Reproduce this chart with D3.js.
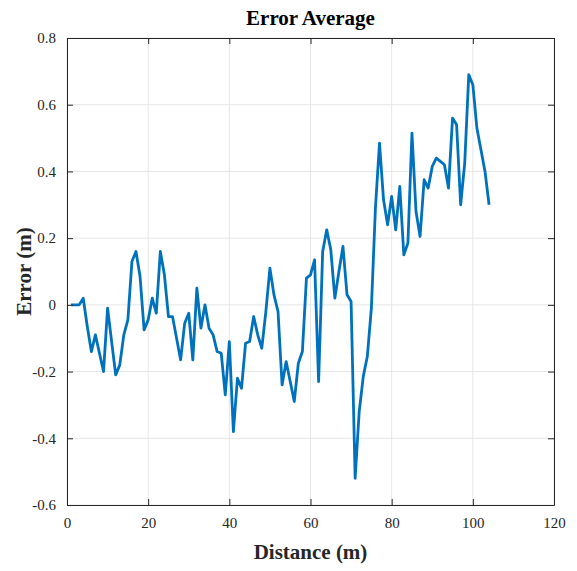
<!DOCTYPE html>
<html>
<head>
<meta charset="utf-8">
<script src="https://cdn.jsdelivr.net/npm/d3@7"></script>
<style>
  html, body { margin: 0; padding: 0; background: #fff; }
  svg { display: block; }
  text { font-family: "Liberation Serif", "Times New Roman", serif; }
</style>
</head>
<body>
<div id="chart"></div>
<script>
// Distance along the route (m)
const distance = [
  1, 2, 3, 4, 5, 6, 7, 8, 9, 10,
  11, 12, 13, 14, 15, 16, 17, 18, 19, 20,
  21, 22, 23, 24, 25, 26, 27, 28, 29, 30,
  31, 32, 33, 34, 35, 36, 37, 38, 39, 40,
  41, 42, 43, 44, 45, 46, 47, 48, 49, 50,
  51, 52, 53, 54, 55, 56, 57, 58, 59, 60,
  61, 62, 63, 64, 65, 66, 67, 68, 69, 70,
  71, 72, 73, 74, 75, 76, 77, 78, 79, 80,
  81, 82, 83, 84, 85, 86, 87, 88, 89, 90,
  91, 92, 93, 94, 95, 96, 97, 98, 99, 100,
  101, 102, 103, 104
];

// Average error at each distance (m)
const errorAvg = [
  0, 0, 0, 0.02, -0.065, -0.14, -0.09, -0.145, -0.2, -0.01,
  -0.11, -0.21, -0.18, -0.09, -0.045, 0.13, 0.16, 0.085, -0.075, -0.045,
  0.02, -0.025, 0.16, 0.09, -0.035, -0.035, -0.1, -0.165, -0.055, -0.025,
  -0.165, 0.05, -0.07, 0, -0.07, -0.09, -0.14, -0.145, -0.27, -0.11,
  -0.38, -0.22, -0.25, -0.115, -0.11, -0.035, -0.09, -0.13, -0.02, 0.11,
  0.03, -0.02, -0.24, -0.17, -0.23, -0.29, -0.175, -0.14, 0.08, 0.09,
  0.135, -0.23, 0.16, 0.225, 0.165, 0.02, 0.1, 0.175, 0.03, 0.01,
  -0.52, -0.32, -0.215, -0.155, -0.01, 0.29, 0.485, 0.315, 0.24, 0.325,
  0.225, 0.355, 0.15, 0.185, 0.515, 0.28, 0.205, 0.375, 0.35, 0.415,
  0.44, 0.43, 0.42, 0.35, 0.56, 0.54, 0.3, 0.425, 0.69, 0.66,
  0.53, 0.465, 0.4, 0.3
];

const xTicks = [0, 20, 40, 60, 80, 100, 120];
const yTicks = [-0.6, -0.4, -0.2, 0, 0.2, 0.4, 0.6, 0.8];
const yTickLabels = ["-0.6", "-0.4", "-0.2", "0", "0.2", "0.4", "0.6", "0.8"];

const titleText = "Error Average";
const xLabelText = "Distance (m)";
const yLabelText = "Error (m)";

const W = 577, H = 571;
const margin = { top: 38, right: 23, bottom: 66, left: 67 };
const iw = W - margin.left - margin.right;
const ih = H - margin.top - margin.bottom;

const axisColor = "#262626";
const gridColor = "#e6e6e6";
const lineColor = "#0072BD";

const svg = d3.select("#chart").append("svg")
  .attr("width", W).attr("height", H);

const g = svg.append("g").attr("transform", `translate(${margin.left},${margin.top})`);

const x = d3.scaleLinear().domain([0, 120]).range([0, iw]);
const y = d3.scaleLinear().domain([-0.6, 0.8]).range([ih, 0]);

// grid
g.append("g").selectAll("line.vg").data(xTicks).join("line")
  .attr("x1", d => x(d)).attr("x2", d => x(d))
  .attr("y1", 0).attr("y2", ih)
  .attr("stroke", gridColor).attr("stroke-width", 1);
g.append("g").selectAll("line.hg").data(yTicks).join("line")
  .attr("x1", 0).attr("x2", iw)
  .attr("y1", d => y(d)).attr("y2", d => y(d))
  .attr("stroke", gridColor).attr("stroke-width", 1);

// data line
const pts = distance.map((d, i) => [d, errorAvg[i]]);
g.append("path")
  .datum(pts)
  .attr("fill", "none")
  .attr("stroke", lineColor)
  .attr("stroke-width", 2.8)
  .attr("stroke-linejoin", "round")
  .attr("d", d3.line().x(d => x(d[0])).y(d => y(d[1])));

// axes with inward ticks on all four sides
const tickLen = 6;
const fmtY = d => yTickLabels[yTicks.indexOf(d)];

const styleAxis = sel => {
  sel.select(".domain").attr("stroke", axisColor).attr("stroke-width", 1);
  sel.selectAll(".tick line").attr("stroke", axisColor);
  sel.selectAll(".tick text").attr("fill", axisColor)
    .style("font-size", "15px").style("font-family", "'Liberation Serif', serif");
};

g.append("g").attr("transform", `translate(0,${ih})`)
  .call(d3.axisBottom(x).tickValues(xTicks).tickSizeInner(-tickLen).tickSizeOuter(0).tickPadding(12))
  .call(styleAxis);
g.append("g")
  .call(d3.axisTop(x).tickValues(xTicks).tickSizeInner(-tickLen).tickSizeOuter(0).tickFormat(""))
  .call(styleAxis);
g.append("g")
  .call(d3.axisLeft(y).tickValues(yTicks).tickFormat(fmtY).tickSizeInner(-tickLen).tickSizeOuter(0).tickPadding(11))
  .call(styleAxis);
g.append("g").attr("transform", `translate(${iw},0)`)
  .call(d3.axisRight(y).tickValues(yTicks).tickSizeInner(-tickLen).tickSizeOuter(0).tickFormat(""))
  .call(styleAxis);

// titles
svg.append("text")
  .attr("x", margin.left + iw / 2).attr("y", 25)
  .attr("text-anchor", "middle")
  .attr("fill", "#000")
  .style("font-size", "21px").style("font-weight", "bold")
  .text(titleText);

svg.append("text")
  .attr("x", margin.left + iw / 2).attr("y", 559)
  .attr("text-anchor", "middle")
  .attr("fill", axisColor)
  .style("font-size", "21px").style("font-weight", "bold")
  .text(xLabelText);

svg.append("text")
  .attr("transform", `translate(31,${margin.top + ih / 2}) rotate(-90)`)
  .attr("text-anchor", "middle")
  .attr("fill", axisColor)
  .style("font-size", "21px").style("font-weight", "bold")
  .text(yLabelText);
</script>
</body>
</html>
